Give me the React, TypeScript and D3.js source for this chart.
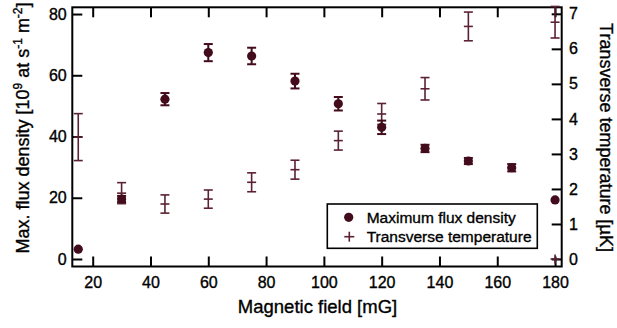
import React, { useEffect, useRef } from 'react';
import * as d3 from 'd3';

// magnetic field steps [mG]
const fields = [15, 30, 45, 60, 75, 90, 105, 120, 135, 150, 165, 180];
// max flux density [10^9 at s^-1 m^-2]
const fluxValues = [3.2, 19.6, 52.2, 67.4, 66.3, 58.1, 50.7, 43.0, 36.1, 32.0, 29.8, 19.3];
const fluxErrors = [0, 1.0, 2.0, 2.8, 2.7, 2.4, 2.2, 2.2, 1.2, 1.0, 1.2, 0];
// transverse temperature [uK]
const tempFields = [15, 30, 45, 60, 75, 90, 105, 120, 135, 150, 180, 180];
const tempValues = [3.48, 1.88, 1.57, 1.71, 2.19, 2.55, 3.38, 4.14, 4.86, 6.64, 6.76, 0];
const tempErrors = [0.67, 0.3, 0.26, 0.26, 0.27, 0.27, 0.27, 0.3, 0.32, 0.41, 0.45, 0];

const xTicks = [20, 40, 60, 80, 100, 120, 140, 160, 180];
const leftTicks = [0, 20, 40, 60, 80];
const rightTicks = [0, 1, 2, 3, 4, 5, 6, 7];

const FONT = '"Liberation Sans", Arial, Helvetica, sans-serif';
const FLUX_COLOR = '#430c1c';
const TEMP_COLOR = '#5a2232';

// slightly heavier glyphs, like the original print
const heavy = sel => sel.attr('stroke', '#000').attr('stroke-width', 0.35).attr('fill', '#000');

const App = () => {
    const svgRef = useRef<SVGSVGElement>(null);

    useEffect(() => {
        const svg = d3.select(svgRef.current);
        svg.selectAll('*').remove();

        const left = 72.3, right = 561.7, top = 7.3, bottom = 266.5;

        const x = d3.scaleLinear().domain([12.94, 182.3]).range([left, right]);
        const yL = d3.scaleLinear().domain([-2.45, 82.2]).range([bottom, top]);
        const yR = d3.scaleLinear().domain([-0.214, 7.186]).range([bottom, top]);

        const styleAxis = g => {
            g.select('.domain').remove();
            g.selectAll('line').attr('stroke', '#000').attr('stroke-width', 2);
            g.selectAll('text')
                .call(heavy)
                .style('font-family', FONT)
                .style('font-size', '16px');
        };

        // axes (ticks inside, labels outside)
        svg.append('g')
            .attr('transform', `translate(0,${bottom})`)
            .call(d3.axisBottom(x).tickValues(xTicks).tickSizeInner(-10).tickSizeOuter(0).tickPadding(10))
            .call(styleAxis);

        svg.append('g')
            .attr('transform', `translate(0,${top})`)
            .call(d3.axisTop(x).tickValues(xTicks).tickSizeInner(-10).tickSizeOuter(0).tickFormat(() => ''))
            .call(styleAxis);

        svg.append('g')
            .attr('transform', `translate(${left},0)`)
            .call(d3.axisLeft(yL).tickValues(leftTicks).tickSizeInner(-10).tickSizeOuter(0).tickPadding(5.6))
            .call(styleAxis);

        svg.append('g')
            .attr('transform', `translate(${right},0)`)
            .call(d3.axisRight(yR).tickValues(rightTicks).tickSizeInner(-10).tickSizeOuter(0).tickPadding(7.3))
            .call(styleAxis);

        // frame
        svg.append('rect')
            .attr('x', left).attr('y', top)
            .attr('width', right - left).attr('height', bottom - top)
            .attr('fill', 'none').attr('stroke', '#000').attr('stroke-width', 2);

        const cap = 4.5;

        // transverse temperature: error bars with + markers
        const temp = svg.append('g').attr('stroke', TEMP_COLOR).attr('stroke-width', 1.6);
        tempFields.forEach((f, i) => {
            const cx = x(f);
            const v = tempValues[i], e = tempErrors[i];
            const yc = yR(v);
            const hi = yR(v + e), lo = yR(v - e);
            temp.append('line').attr('x1', cx).attr('x2', cx)
                .attr('y1', Math.min(hi, yc - cap)).attr('y2', Math.max(lo, yc + cap));
            temp.append('line').attr('x1', cx - cap).attr('x2', cx + cap).attr('y1', yc).attr('y2', yc);
            if (e > 0) {
                [hi, lo].forEach(yy => {
                    temp.append('line').attr('x1', cx - cap).attr('x2', cx + cap).attr('y1', yy).attr('y2', yy);
                });
            }
        });

        // max flux density: filled circles with error bars
        const flux = svg.append('g');
        fields.forEach((f, i) => {
            const cx = x(f);
            const v = fluxValues[i], e = fluxErrors[i];
            if (e > 0) {
                const hi = yL(v + e), lo = yL(v - e);
                const eb = flux.append('g').attr('stroke', FLUX_COLOR).attr('stroke-width', 2);
                eb.append('line').attr('x1', cx).attr('x2', cx).attr('y1', hi).attr('y2', lo);
                eb.append('line').attr('x1', cx - cap).attr('x2', cx + cap).attr('y1', hi).attr('y2', hi);
                eb.append('line').attr('x1', cx - cap).attr('x2', cx + cap).attr('y1', lo).attr('y2', lo);
            }
            flux.append('circle').attr('cx', cx).attr('cy', yL(v)).attr('r', 4.6).attr('fill', FLUX_COLOR);
        });

        // axis titles
        svg.append('text')
            .attr('x', (left + right) / 2 + 0.5).attr('y', 313)
            .attr('text-anchor', 'middle')
            .call(heavy)
            .style('font-family', FONT).style('font-size', '18.5px')
            .text('Magnetic field [mG]');

        const yTitle = svg.append('text')
            .attr('transform', 'translate(29,128) rotate(-90)')
            .attr('text-anchor', 'middle')
            .call(heavy)
            .style('font-family', FONT).style('font-size', '18px');
        yTitle.append('tspan').text('Max. flux density [10');
        yTitle.append('tspan').attr('dy', -7).style('font-size', '12px').text('9');
        yTitle.append('tspan').attr('dy', 7).text(' at s');
        yTitle.append('tspan').attr('dy', -7).style('font-size', '12px').text('-1');
        yTitle.append('tspan').attr('dy', 7).text(' m');
        yTitle.append('tspan').attr('dy', -7).style('font-size', '12px').text('-2');
        yTitle.append('tspan').attr('dy', 7).text(']');

        svg.append('text')
            .attr('transform', 'translate(600,137.5) rotate(90)')
            .attr('text-anchor', 'middle')
            .call(heavy)
            .style('font-family', FONT).style('font-size', '18px')
            .text('Transverse temperature [\u00b5K]');

        // legend
        const lg = svg.append('g');
        lg.append('rect')
            .attr('x', 327.3).attr('y', 204).attr('width', 210).attr('height', 44.3)
            .attr('fill', '#fff').attr('stroke', '#000').attr('stroke-width', 1.6);
        lg.append('circle').attr('cx', 348.7).attr('cy', 217.3).attr('r', 4.6).attr('fill', FLUX_COLOR);
        lg.append('line').attr('x1', 344.3).attr('x2', 354.3).attr('y1', 236.7).attr('y2', 236.7)
            .attr('stroke', TEMP_COLOR).attr('stroke-width', 1.6);
        lg.append('line').attr('x1', 349.3).attr('x2', 349.3).attr('y1', 231.7).attr('y2', 241.7)
            .attr('stroke', TEMP_COLOR).attr('stroke-width', 1.6);
        lg.append('text').attr('x', 366.7).attr('y', 222.8)
            .call(heavy)
            .style('font-family', FONT).style('font-size', '15.5px')
            .text('Maximum flux density');
        lg.append('text').attr('x', 366.7).attr('y', 242.2)
            .call(heavy)
            .style('font-family', FONT).style('font-size', '15.5px')
            .text('Transverse temperature');
    }, []);

    return (
        <svg
            ref={svgRef}
            width={617}
            height={328}
            style={{ position: 'absolute', left: 0, top: 0, background: '#fff' }}
        ></svg>
    );
};

export default App;
